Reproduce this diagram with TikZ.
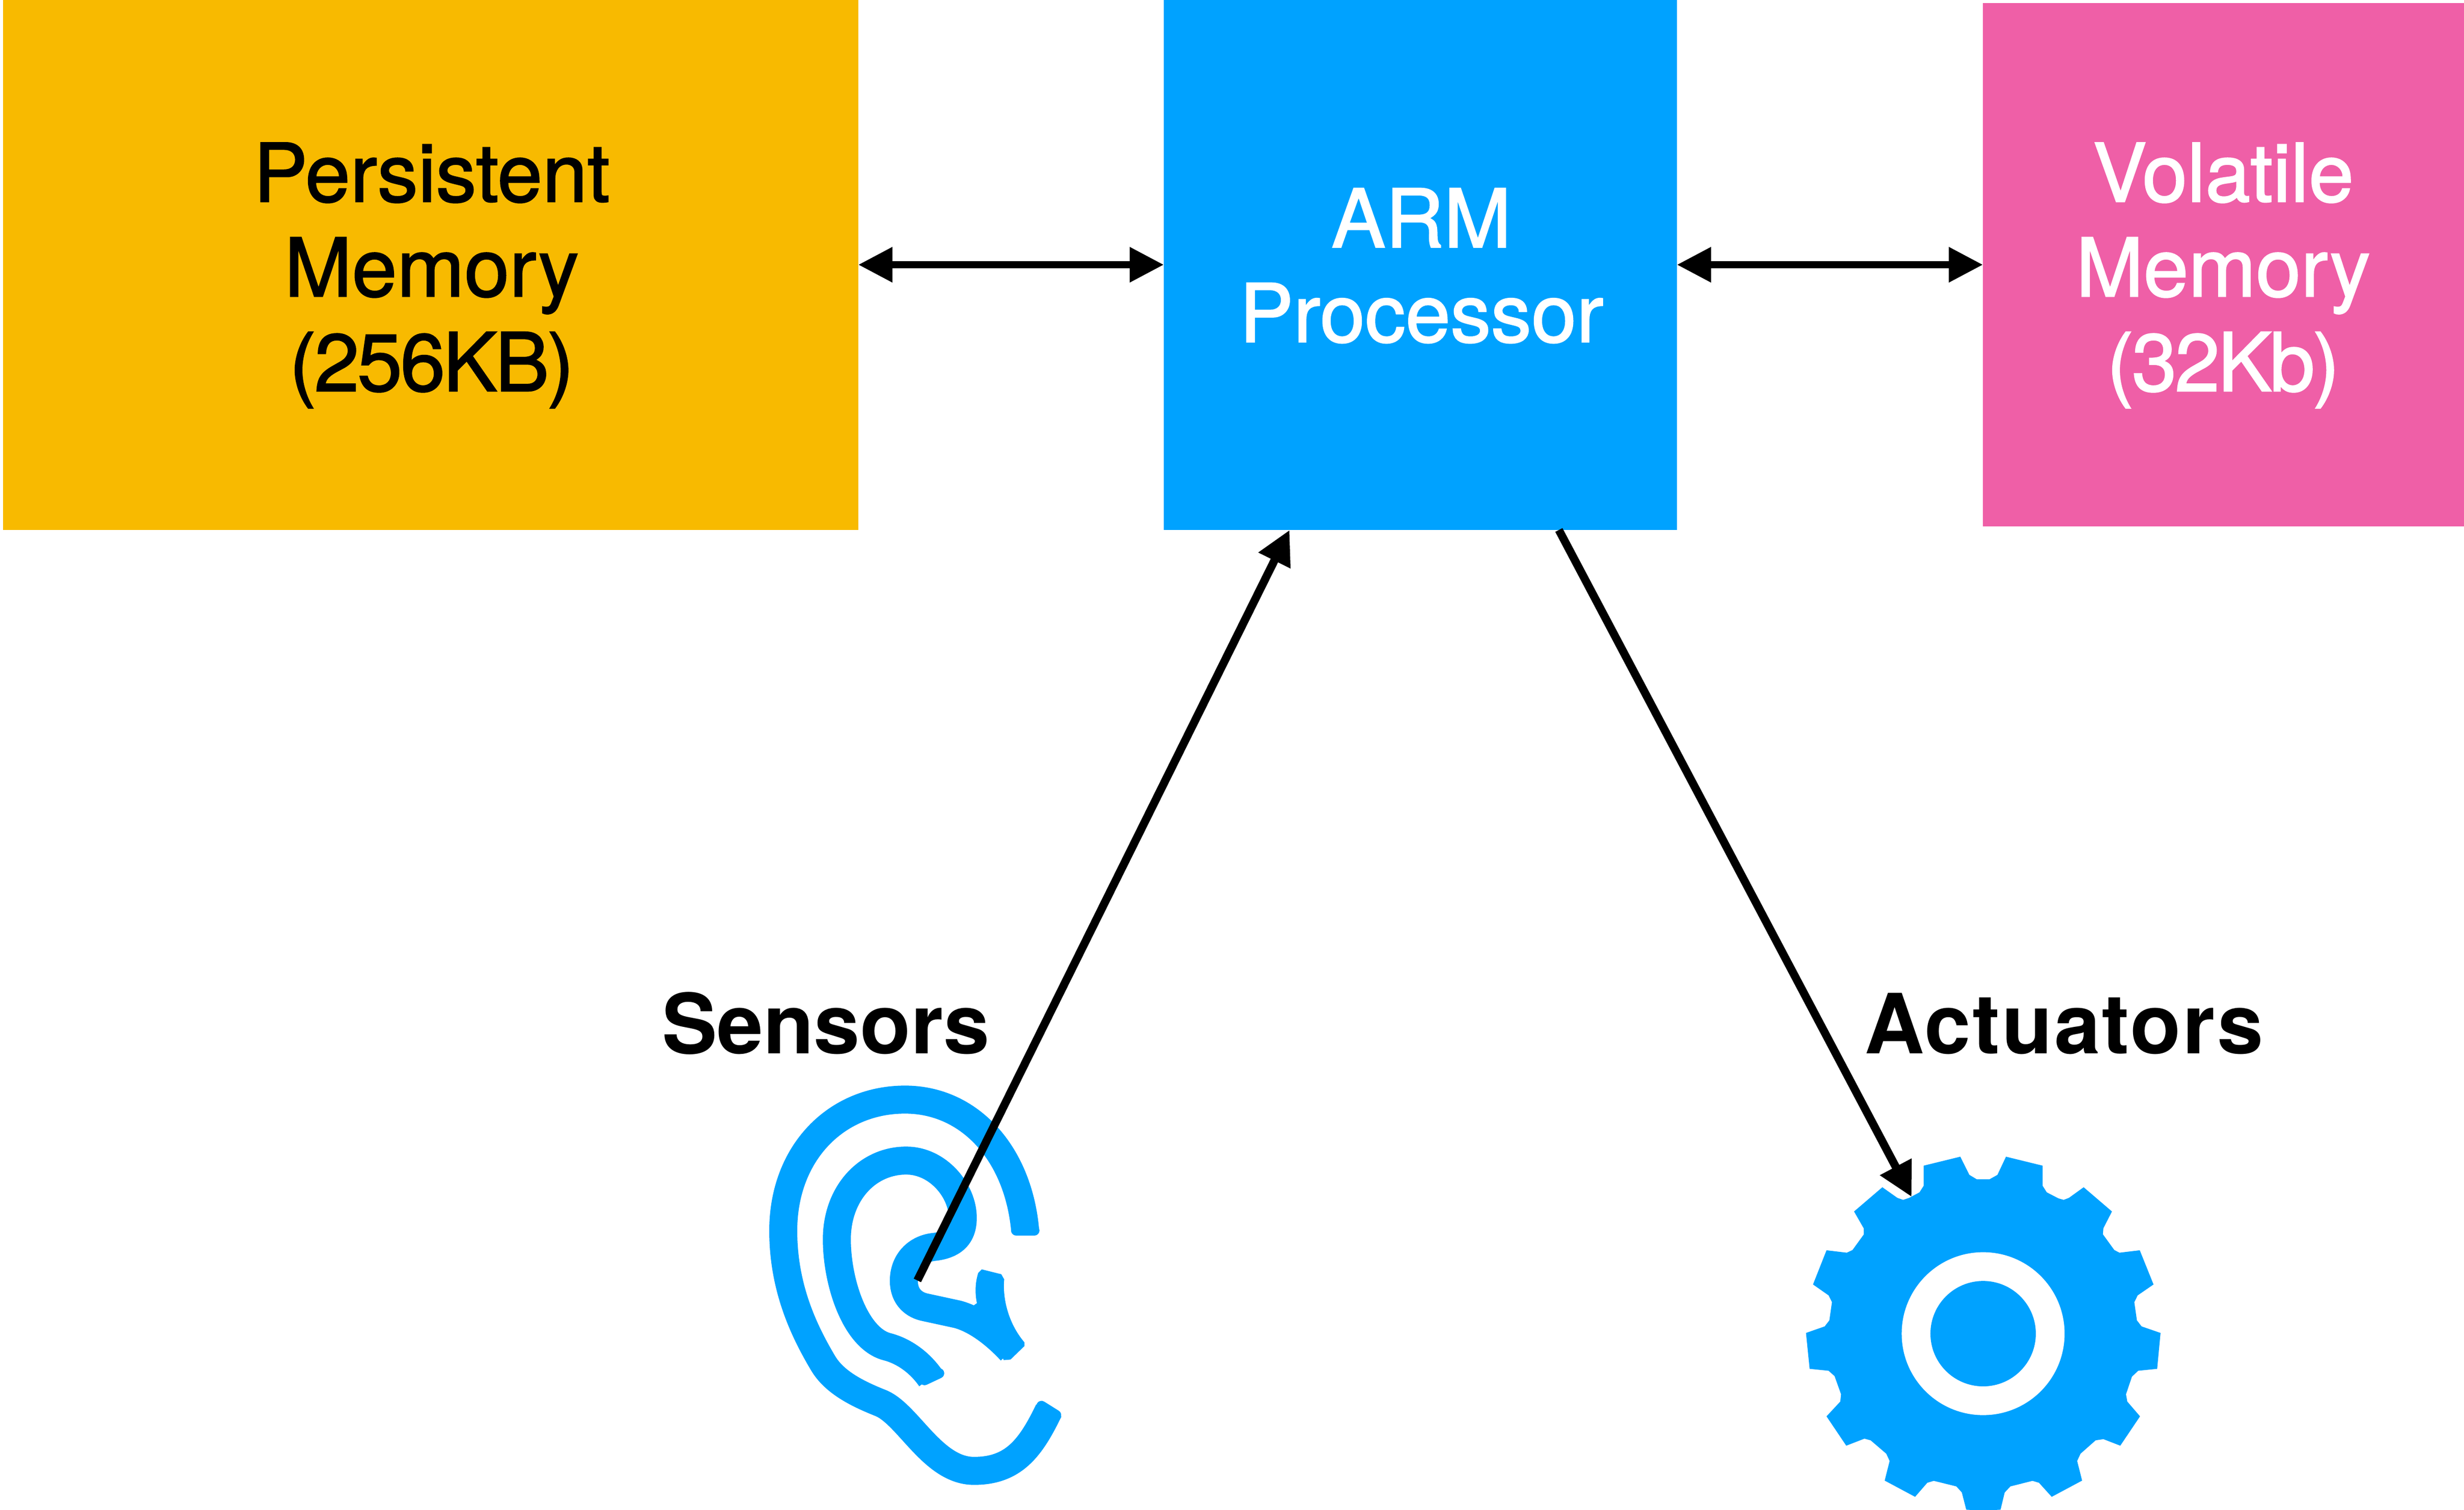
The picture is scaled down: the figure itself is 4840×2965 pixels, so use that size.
\documentclass[tikz,border=0pt]{standalone}
\usepackage{fontspec}
\setmainfont{TeX Gyre Heros}
\newfontfamily\medfont[FakeBold=1.5]{TeX Gyre Heros}
\usetikzlibrary{arrows.meta}
\definecolor{amberbox}{HTML}{F8BA00}
\definecolor{bluebox}{HTML}{00A2FF}
\definecolor{pinkbox}{HTML}{EF5FA7}
\tikzset{
  membox/.style={rectangle,inner sep=0pt,outer sep=0pt},
  boxtext/.style={inner sep=0pt,outer sep=0pt,align=center,
    font=\medfont\fontsize{15.9}{18.6}\selectfont},
  iconlabel/.style={inner sep=0pt,outer sep=0pt,anchor=base,
    font=\fontsize{16.3}{18}\selectfont\bfseries},
  link/.style={line width=1.4pt,black},
  oneway/.style={black,line width=1.6pt,-{Triangle[length=6.7pt,width=6.6pt]}},
  twoway/.style={link,{Triangle[length=6.7pt,width=6.6pt]}-{Triangle[length=6.7pt,width=6.6pt]}},
  earband/.style={draw=bluebox,line width=5.5pt,line cap=butt,line join=round},
  earcap/.style={draw=bluebox,line width=2pt,line cap=round},
}
\newcommand{\tightline}[1]{{\addfontfeature{LetterSpace=-2.5}#1}}
\begin{document}
\begin{tikzpicture}[x=0.1pt,y=-0.1pt]
\useasboundingbox (0,0) rectangle (4840,2965);
% boxes
\node[membox,fill=amberbox,minimum width=168pt,minimum height=104.1pt] (pm) at (846,520.5) {};
\node[membox,fill=bluebox,minimum width=100.8pt,minimum height=104.1pt] (arm) at (2790,520.5) {};
\node[membox,fill=pinkbox,minimum width=94.5pt,minimum height=102.8pt] (vm) at (4367.5,520) {};
\node[boxtext,text=black] (pmt) at (848,541) {Persistent\\Memory\\\tightline{(256KB)}};
\node[boxtext,text=white] (armt) at (2792,522) {ARM\\Processor};
\node[boxtext,text=white] (vmt) at (4367,541) {Volatile\\Memory\\\tightline{(32Kb)}};
% labels
\node[iconlabel] (sens) at (1622,2069) {Sensors};
\node[iconlabel] (act) at (4054,2069) {\addfontfeature{LetterSpace=2}Actuators};
% ear
\begin{scope}[shift={(1450,2080)},xscale=0.4785,yscale=0.5623]
\draw[earband] (1178,599)
  .. controls (1150,330) and (950,142) .. (685,142)
  .. controls (400,142) and (185,330) .. (185,600)
  .. controls (185,800) and (270,950) .. (348,1062)
  .. controls (395,1130) and (490,1170) .. (588,1203)
  .. controls (700,1245) and (800,1439) .. (968,1439)
  .. controls (1130,1439) and (1200,1360) .. (1275,1228);
\draw[earcap] (1141,599) -- (1216,599);
\draw[earcap] (1245,1212) -- (1305,1244);
\draw[earband] (790,1115)
  .. controls (745,1060) and (680,1020) .. (610,1005)
  .. controls (480,975) and (405,780) .. (405,630)
  .. controls (405,470) and (530,355) .. (690,355)
  .. controls (820,355) and (922,460) .. (922,555)
  .. controls (922,620) and (880,650) .. (800,657)
  .. controls (730,665) and (680,710) .. (680,775)
  .. controls (680,830) and (720,860) .. (770,868)
  -- (900,892)
  .. controls (980,910) and (1060,965) .. (1120,1020);
\draw[earcap] (765,1122) -- (825,1098);
\fill[bluebox] (985,748) -- (1000,735) -- (1080,752) -- (1092,770)
  .. controls (1085,830) and (1105,920) .. (1175,990)
  -- (1175,1003) -- (1118,1050) -- (1090,1052) -- (1060,990) -- (950,895) -- (965,862) -- (980,853)
  .. controls (972,820) and (972,785) .. (985,748) -- cycle;
\end{scope}
% gear
\begin{scope}[shift={(3500,2222)},xscale=0.5102,yscale=0.4762]
\fill[bluebox] (687,105)--(722,180)--(750,198)--(800,198)--(830,180)--(863,105)--(1004,142)--(1004,225)--(1020,252)--(1065,277)--(1085,283)--(1105,275)--(1162,231)--(1271,331)--(1238,400)--(1236,425)--(1280,490)--(1300,501)--(1378,491)--(1431,632)--(1370,677)--(1357,705)--(1367,780)--(1385,805)--(1458,832)--(1445,980)--(1372,988)--(1348,1012)--(1325,1085)--(1330,1115)--(1379,1176)--(1303,1297)--(1238,1270)--(1208,1275)--(1150,1330)--(1137,1360)--(1156,1441)--(1039,1508)--(990,1450)--(965,1442)--(880,1465)--(858,1490)--(842,1561)--(775,1565)--(710,1561)--(693,1490)--(672,1465)--(585,1442)--(560,1450)--(513,1508)--(396,1441)--(415,1360)--(402,1330)--(342,1275)--(318,1268)--(248,1297)--(172,1176)--(225,1115)--(228,1085)--(203,1010)--(180,988)--(107,980)--(93,832)--(165,805)--(183,780)--(193,705)--(180,677)--(120,632)--(172,491)--(250,501)--(272,490)--(316,425)--(315,400)--(278,331)--(387,231)--(445,275)--(467,283)--(490,275)--(530,252)--(546,225)--(546,142)--cycle;
\end{scope}
\fill[white] (3895.4,2619.6) circle[radius=16pt];
\fill[bluebox] (3895.4,2619.6) circle[radius=10.35pt];
% connector ends
\coordinate (rail) at (0,520);
\coordinate (earend) at (1802,2515);
\coordinate (armin) at (2533,1041);
\coordinate (armout) at (3062,1041);
\coordinate (gearend) at (3755,2351);
% connectors
\draw[twoway] (pm.east |- rail) -- (arm.west |- rail);
\draw[twoway] (arm.east |- rail) -- (vm.west |- rail);
\draw[oneway] (earend) -- (armin);
\draw[oneway] (armout) -- (gearend);
\end{tikzpicture}
\end{document}
